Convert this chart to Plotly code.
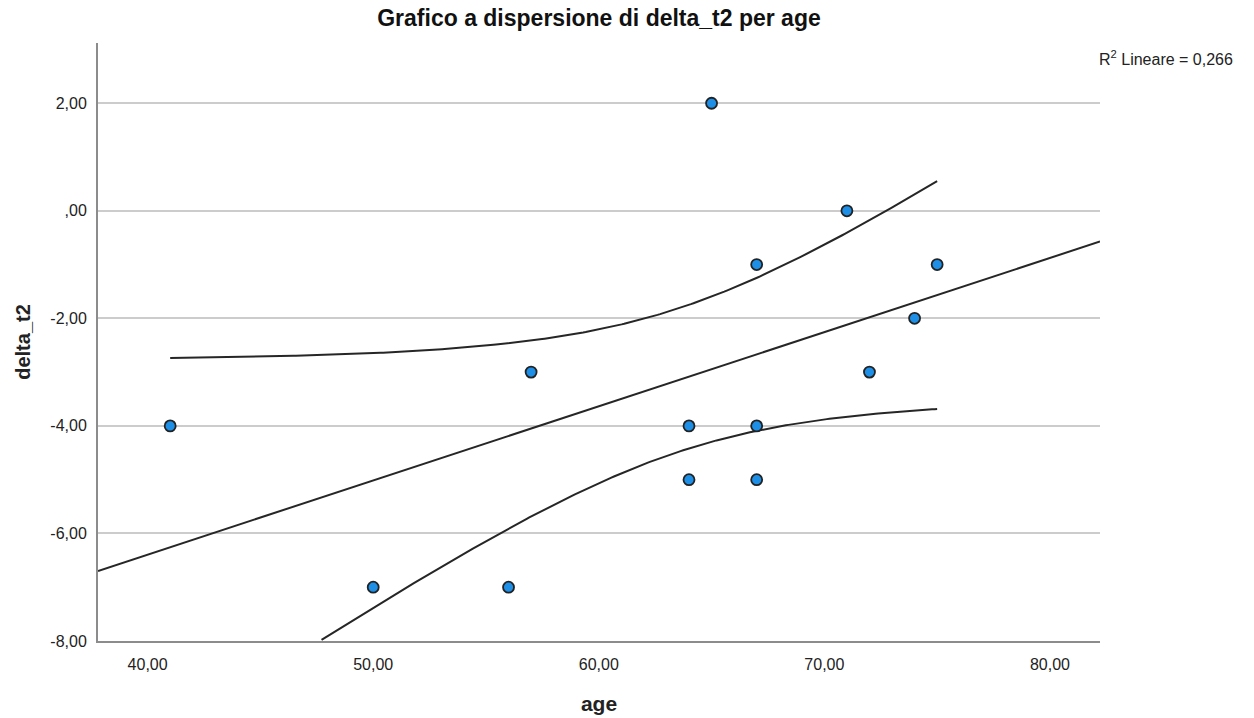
import numpy as np
import plotly.graph_objects as go

age = [41, 50, 56, 57, 64, 64, 65, 67, 67, 67, 71, 72, 74, 75]
delta_t2 = [-4, -7, -7, -3, -4, -5, 2, -1, -4, -5, 0, -3, -2, -1]
y_ticks = [-8, -6, -4, -2, 0, 2]
y_labels = ["-8,00", "-6,00", "-4,00", "-2,00", ",00", "2,00"]
x_ticks = [40, 50, 60, 70, 80]
x_labels = ["40,00", "50,00", "60,00", "70,00", "80,00"]

x = np.array(age, float)
y = np.array(delta_t2, float)
n = len(x)
slope, intercept = np.polyfit(x, y, 1)
r2 = np.corrcoef(x, y)[0, 1] ** 2
resid = y - (intercept + slope * x)
s = np.sqrt(np.sum(resid ** 2) / (n - 2))
sxx = np.sum((x - x.mean()) ** 2)
tcrit = 2.178813  # t(0.975, 12)

XMIN, XMAX = 37.8, 82.22
YMIN, YMAX = -8.0, 3.12

xl = np.linspace(XMIN, XMAX, 50)
yl = intercept + slope * xl
xc = np.linspace(x.min(), x.max(), 300)
yc = intercept + slope * xc
half = tcrit * s * np.sqrt(1 / n + (xc - x.mean()) ** 2 / sxx)
upper = yc + half
lower = yc - half
lower = np.where(lower >= YMIN, lower, np.nan)

fig = go.Figure()
line_style = dict(color="#262626", width=2)
fig.add_trace(go.Scatter(x=xl, y=yl, mode="lines", line=line_style, hoverinfo="skip"))
fig.add_trace(go.Scatter(x=xc, y=upper, mode="lines", line=line_style, hoverinfo="skip"))
fig.add_trace(go.Scatter(x=xc, y=lower, mode="lines", line=line_style, hoverinfo="skip"))
fig.add_trace(go.Scatter(
    x=age, y=delta_t2, mode="markers",
    marker=dict(size=11, color="#1e8fe6", line=dict(color="#222222", width=1.8)),
))

fig.update_layout(
    width=1254, height=718,
    margin=dict(l=98, r=154, t=43, b=77),
    paper_bgcolor="white", plot_bgcolor="white",
    showlegend=False,
    font=dict(family="Liberation Sans, Arial, sans-serif", color="#222222"),
    title=dict(text="<b>Grafico a dispersione di delta_t2 per age</b>", x=0.5, xanchor="center",
               xref="paper", y=0.975, yanchor="middle", font=dict(size=23, color="#111111")),
    xaxis=dict(range=[XMIN, XMAX], tickvals=x_ticks, ticktext=x_labels, showgrid=False,
               zeroline=False, showline=True, linecolor="#8c8c8c", linewidth=2,
               ticks="", tickfont=dict(size=16), ticklabelstandoff=8, automargin=False,
               title=dict(text="<b>age</b>", font=dict(size=21), standoff=24)),
    yaxis=dict(range=[YMIN, YMAX], tickvals=y_ticks, ticktext=y_labels, showgrid=True,
               gridcolor="#cccccc", gridwidth=2, zeroline=False, showline=True,
               linecolor="#8c8c8c", linewidth=2, ticks="", tickfont=dict(size=16),
               ticklabelstandoff=6, automargin=False,
               title=dict(text="<b>delta_t2</b>", font=dict(size=20), standoff=14)),
    annotations=[dict(
        text="R<sup>2</sup> Lineare = %s" % (f"{r2:.3f}".replace(".", ",")),
        xref="paper", yref="paper", x=1.135, y=0.975, xanchor="right", yanchor="middle",
        showarrow=False, font=dict(size=16, color="#222222"))],
)

fig.write_html("out.html")
